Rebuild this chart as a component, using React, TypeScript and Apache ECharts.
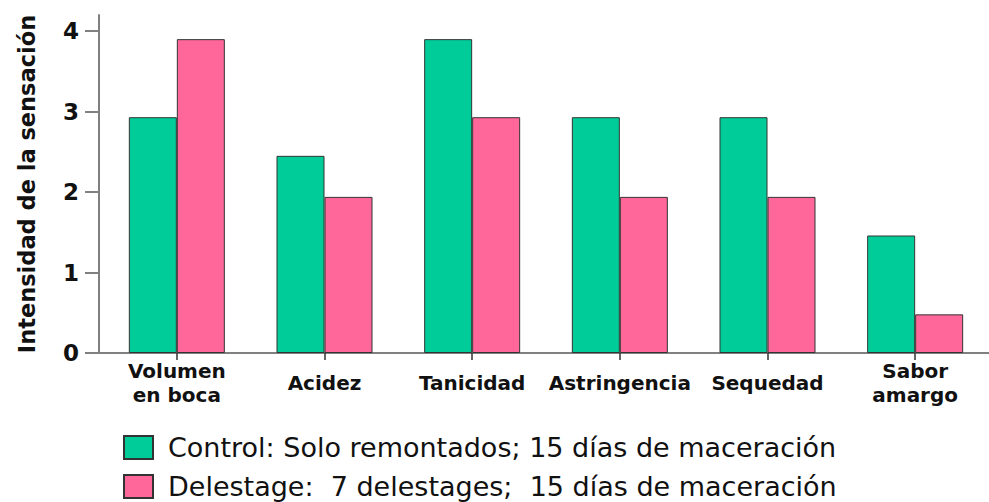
import React, { useEffect, useRef } from "react";
import * as echarts from "echarts";

const categories = ["Volumen en boca", "Acidez", "Tanicidad", "Astringencia", "Sequedad", "Sabor amargo"];
const controlValues = [2.93, 2.45, 3.9, 2.93, 2.93, 1.46];
const delestageValues = [3.9, 1.94, 2.93, 1.94, 1.94, 0.48];
const yTicks = [0, 1, 2, 3, 4];
const seriesNames = [
  "Control: Solo remontados; 15 días de maceración",
  "Delestage:  7 delestages;  15 días de maceración",
];
const yAxisTitle = "Intensidad de la sensación";
const colors = ["#00CC99", "#FF6699"];

const FONT = "DejaVu Sans";

export default function App() {
  const ref = useRef<HTMLDivElement>(null);
  useEffect(() => {
    if (!ref.current) return;
    const chart = echarts.init(ref.current, undefined, { renderer: "svg" });
    const gridLeft = 103;
    const gridBottomY = 353;
    chart.setOption({
      animation: false,
      backgroundColor: "#ffffff",
      grid: { left: gridLeft, width: 887, top: 15, bottom: 502 - gridBottomY, containLabel: false },
      legend: {
        orient: "vertical",
        left: 123,
        top: 433,
        padding: 0,
        itemWidth: 29,
        itemHeight: 23,
        itemGap: 10,
        icon: "rect",
        textStyle: { fontFamily: FONT, fontSize: 27, lineHeight: 29, color: "#111", padding: [0, 0, 0, 10] },
        data: seriesNames,
      },
      xAxis: {
        type: "category",
        data: categories,
        axisLine: { show: true, lineStyle: { color: "#808080", width: 2 } },
        axisTick: { show: true, alignWithLabel: true, length: 7, lineStyle: { color: "#333", width: 1.5 } },
        axisLabel: {
          interval: 0,
          margin: 30,
          verticalAlign: "middle",
          fontFamily: FONT,
          fontWeight: "bold",
          fontSize: 20,
          lineHeight: 24,
          color: "#111",
          formatter: (v: string) => {
            const i = v.indexOf(" ");
            return i > 0 ? v.slice(0, i) + "\n" + v.slice(i + 1) : v;
          },
        },
      },
      yAxis: {
        type: "value",
        min: 0,
        max: 4.2,
        interval: 1,
        offset: 4,
        name: yAxisTitle,
        nameLocation: "middle",
        nameGap: 61,
        nameTextStyle: { fontFamily: FONT, fontWeight: "bold", fontSize: 22.5, color: "#111" },
        splitLine: { show: false },
        axisLine: { show: true, lineStyle: { color: "#808080", width: 2 } },
        axisTick: { show: true, length: 14, customValues: yTicks, lineStyle: { color: "#808080", width: 2 } },
        axisLabel: {
          customValues: yTicks,
          margin: 20,
          fontFamily: FONT,
          fontWeight: "bold",
          fontSize: 23,
          color: "#111",
        },
      },
      graphic: [
        {
          type: "line",
          shape: { x1: 88, y1: gridBottomY, x2: gridLeft, y2: gridBottomY },
          style: { stroke: "#808080", lineWidth: 2 },
          z: 1,
        },
      ],
      series: [
        {
          name: seriesNames[0],
          type: "bar",
          data: controlValues,
          barWidth: 48,
          barGap: "0%",
          itemStyle: { color: colors[0], borderColor: "#333", borderWidth: 1 },
        },
        {
          name: seriesNames[1],
          type: "bar",
          data: delestageValues,
          barWidth: 48,
          barGap: "0%",
          itemStyle: { color: colors[1], borderColor: "#333", borderWidth: 1 },
        },
      ],
    });
    return () => chart.dispose();
  }, []);
  return <div ref={ref} style={{ width: 989, height: 502, position: "absolute", left: 0, top: 0 }} />;
}
